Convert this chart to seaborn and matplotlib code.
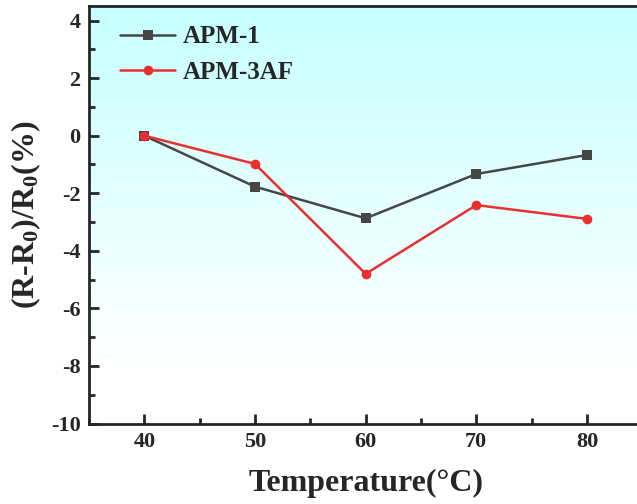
import numpy as np
import pandas as pd
import matplotlib
matplotlib.use("Agg")
import matplotlib.pyplot as plt
import seaborn as sns
from matplotlib.ticker import MultipleLocator

temperature = [40, 50, 60, 70, 80]
apm1 = [0.0, -1.77, -2.87, -1.33, -0.67]
apm3af = [0.0, -0.98, -4.80, -2.41, -2.89]
series_names = ["APM-1", "APM-3AF"]

df = pd.DataFrame({
    "Temperature": temperature * 2,
    "value": apm1 + apm3af,
    "series": [series_names[0]] * len(temperature) + [series_names[1]] * len(temperature),
})

sns.set_style("ticks")
plt.rcParams["font.family"] = ["Liberation Serif", "DejaVu Serif"]
plt.rcParams["font.weight"] = "bold"
plt.rcParams["axes.unicode_minus"] = False
plt.rcParams["mathtext.fontset"] = "custom"
plt.rcParams["mathtext.rm"] = "Liberation Serif:bold"
plt.rcParams["mathtext.bf"] = "Liberation Serif:bold"
plt.rcParams["mathtext.default"] = "bf"

fig = plt.figure(figsize=(6.37, 5.04), dpi=100)
ax = fig.add_axes([0.1397, 0.1597, 0.8686, 0.828])

# gradient background (cyan at top fading to white)
grad = np.linspace(0, 1, 256).reshape(-1, 1)
top = np.array([0.78, 1.0, 1.0])
bot = np.array([1.0, 1.0, 1.0])
w = np.clip(grad * 1.15, 0, 1)
img = top[None, None, :] * (1 - w[..., None]) + bot[None, None, :] * w[..., None]
img = img.reshape(256, 1, 3)
ax.imshow(img, extent=[0, 1, 0, 1], origin="upper", transform=ax.transAxes,
          aspect="auto", zorder=0)

palette = {"APM-1": "#464646", "APM-3AF": "#e8302f"}
sns.lineplot(data=df, x="Temperature", y="value", hue="series", style="series",
             markers={"APM-1": "s", "APM-3AF": "o"}, dashes=False,
             palette=palette, linewidth=1.8, markersize=7, markeredgewidth=0,
             ax=ax, zorder=3)

ax.set_xlim(35, 85)
ax.set_ylim(-10, 4.5)
ax.xaxis.set_major_locator(MultipleLocator(10))
ax.xaxis.set_minor_locator(MultipleLocator(5))
ax.yaxis.set_major_locator(MultipleLocator(2))
ax.yaxis.set_minor_locator(MultipleLocator(1))
ax.tick_params(which="major", direction="in", length=7, width=2, labelsize=16, pad=6)
ax.tick_params(which="minor", direction="in", length=4, width=2)
for lbl in ax.get_xticklabels() + ax.get_yticklabels():
    lbl.set_fontweight("bold")
for s in ax.spines.values():
    s.set_linewidth(2)

ax.set_xlabel("Temperature(°C)", fontsize=23, fontweight="bold", labelpad=12)
ax.set_ylabel("(R-R$_0$)/R$_0$(%)", fontsize=23, fontweight="bold", labelpad=6)

leg = ax.legend(loc="upper left", frameon=False, fontsize=18, handlelength=2.2,
                handletextpad=0.3, bbox_to_anchor=(0.038, 0.978),
                borderaxespad=0, labelspacing=0.5)
for t in leg.get_texts():
    t.set_fontweight("bold")

fig.savefig("out.png", dpi=100)
